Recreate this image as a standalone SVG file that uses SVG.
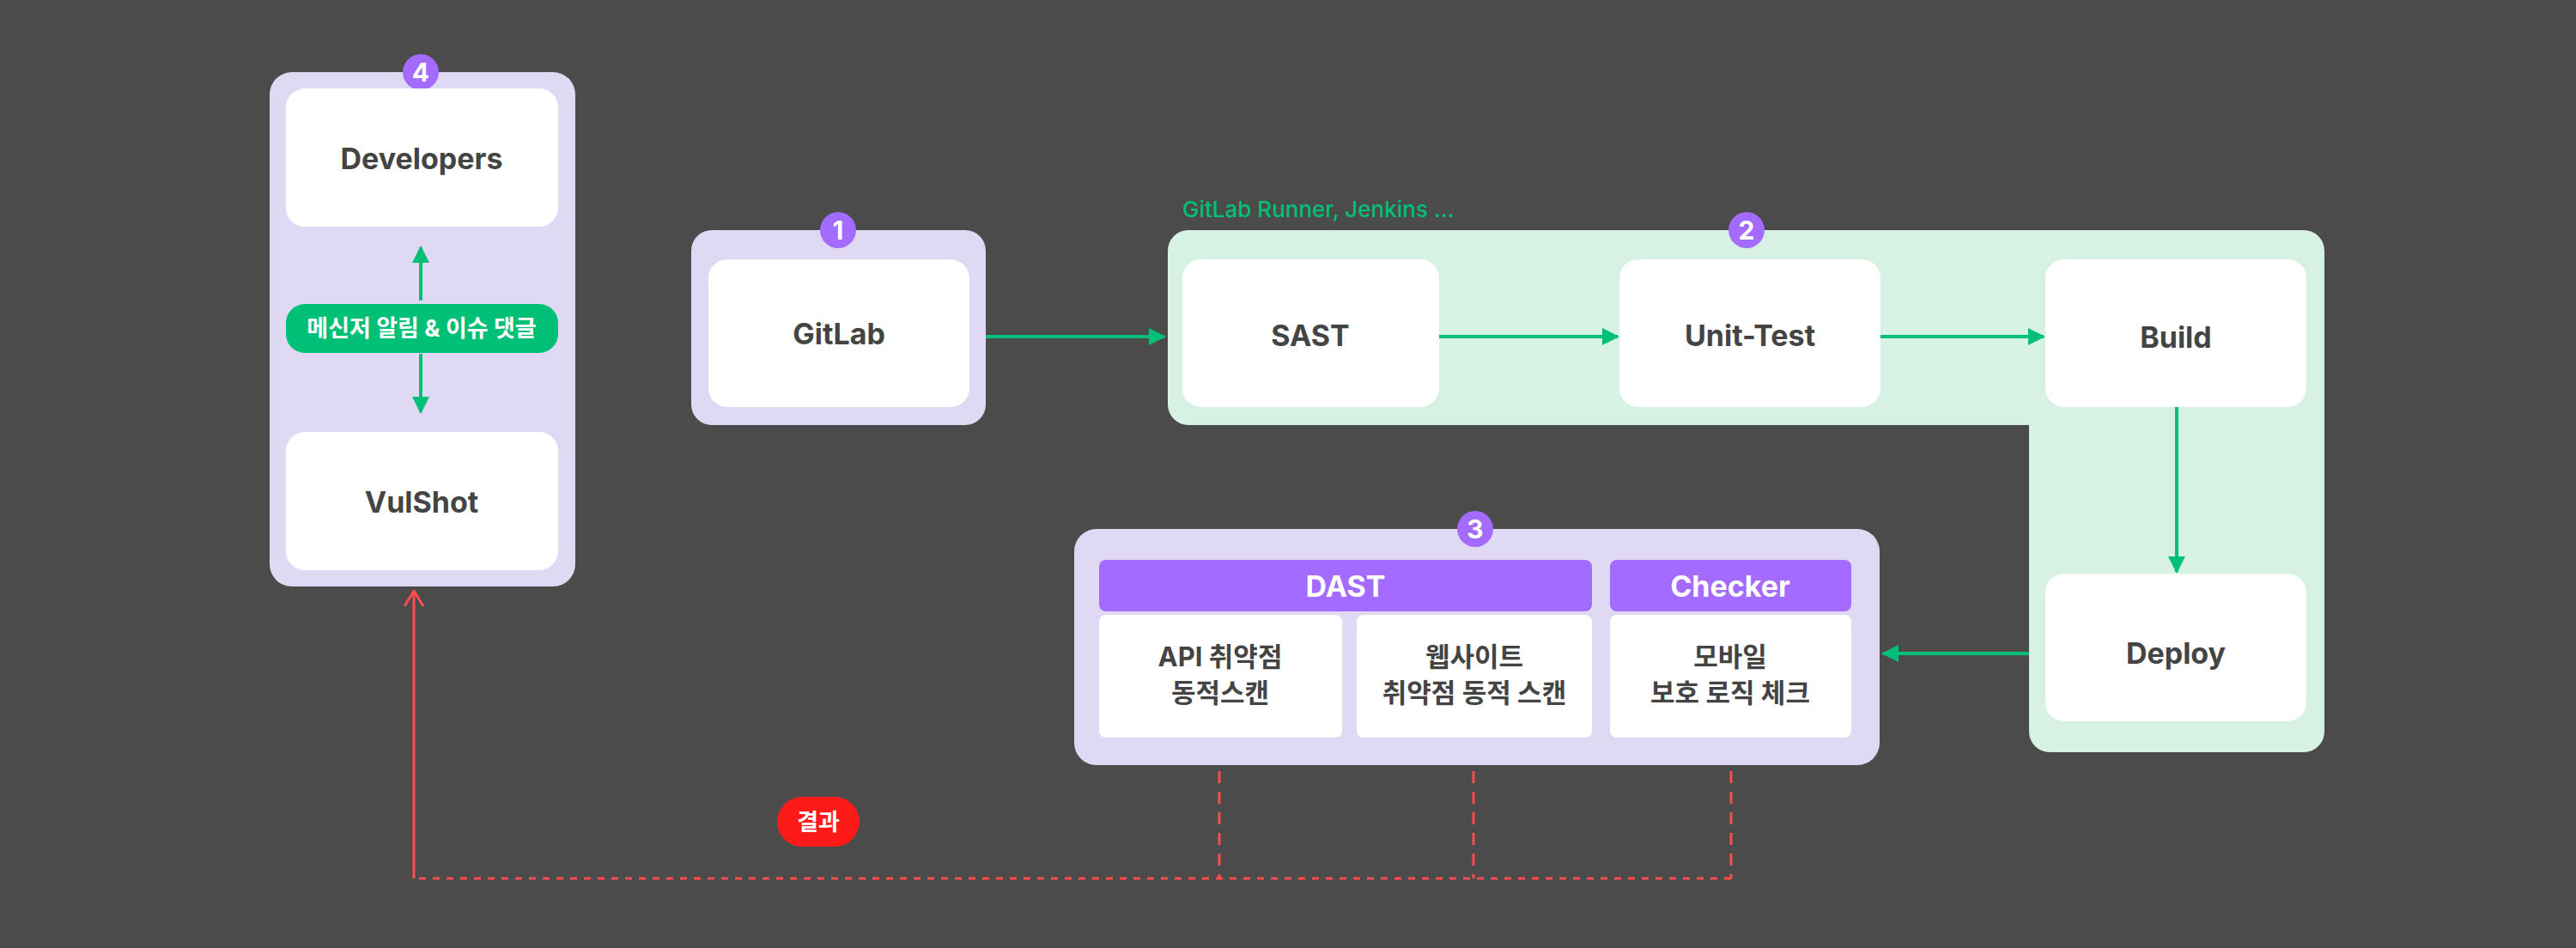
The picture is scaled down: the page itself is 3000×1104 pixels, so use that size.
<svg xmlns="http://www.w3.org/2000/svg" width="3000" height="1104" viewBox="0 0 3000 1104">
<style>
.grp{fill:#e0d9f3}
.grn{fill:#d7f2e5}
.box{fill:#fff}
.t{font-family:Inter,"Noto Sans CJK KR",sans-serif;font-weight:700;fill:#444444;text-anchor:middle;dominant-baseline:central}
.lg{font-size:34px}
.md{font-size:31px}
.w{fill:#fff}
.badge{fill:#a36bff}
.bt{font-family:Inter,sans-serif;font-weight:700;font-size:30px;fill:#fff;text-anchor:middle;dominant-baseline:central}
.ga{stroke:#00bf77;stroke-width:4;fill:none}
.rd{stroke:#ff4d4d;stroke-width:3;fill:none}
</style>
<defs>
<marker id="ah" viewBox="0 0 10 10" refX="9" refY="5" markerWidth="5" markerHeight="5" orient="auto-start-reverse"><path d="M0,0L10,5L0,10z" fill="#00bf77"/></marker>
<marker id="ro" viewBox="0 0 20 24" refX="19" refY="12" markerWidth="20" markerHeight="24" markerUnits="userSpaceOnUse" orient="auto"><path d="M1,1L19,12L1,23" fill="none" stroke="#ff4d4d" stroke-width="3"/></marker>
</defs>
<rect width="3000" height="1104" fill="#4b4b4b"/>

<g id="group4">
<rect class="grp" x="314" y="84" width="356" height="599" rx="26"/>
<circle class="badge" cx="490" cy="84" r="21"/><text class="bt" x="490" y="84">4</text>
</g>
<g id="developers"><rect class="box" x="333" y="103" width="317" height="161" rx="22"/><text class="t lg" x="491" y="184">Developers</text></g>
<g id="vulshot"><rect class="box" x="333" y="503" width="317" height="161" rx="22"/><text class="t lg" x="491" y="584">VulShot</text></g>

<g id="group1">
<rect class="grp" x="805" y="268" width="343" height="227" rx="24"/>
<circle class="badge" cx="976" cy="268" r="21"/><text class="bt" x="976" y="268">1</text>
</g>
<g id="gitlab"><rect class="box" x="825" y="302" width="304" height="172" rx="22"/><text class="t lg" x="977" y="388">GitLab</text></g>

<g id="group2">
<path class="grn" d="M1384,268H2683A24,24 0 0 1 2707,292V852A24,24 0 0 1 2683,876H2387A24,24 0 0 1 2363,852V495H1384A24,24 0 0 1 1360,471V292A24,24 0 0 1 1384,268Z"/>
<circle class="badge" cx="2034" cy="268" r="21"/><text class="bt" x="2034" y="268">2</text>
<text x="1377" y="243" font-family="Inter,sans-serif" font-size="26" font-weight="500" fill="#00bf77" dominant-baseline="central">GitLab Runner, Jenkins ...</text>
</g>
<g id="sast"><rect class="box" x="1377" y="302" width="299" height="172" rx="22"/><text class="t lg" x="1526" y="390">SAST</text></g>
<g id="unittest"><rect class="box" x="1886" y="302" width="304" height="172" rx="22"/><text class="t lg" x="2038" y="390">Unit-Test</text></g>
<g id="build"><rect class="box" x="2382" y="302" width="304" height="172" rx="22"/><text class="t lg" x="2534" y="392">Build</text></g>
<g id="deploy"><rect class="box" x="2382" y="668" width="304" height="172" rx="22"/><text class="t lg" x="2534" y="760">Deploy</text></g>

<g id="group3">
<rect class="grp" x="1251" y="616" width="938" height="275" rx="26"/>
<circle class="badge" cx="1718" cy="616" r="21"/><text class="bt" x="1718" y="616">3</text>
</g>
<g id="dast"><rect class="badge" x="1280" y="652" width="574" height="60" rx="8"/><text class="t lg w" x="1567" y="682">DAST</text></g>
<g id="checker"><rect class="badge" x="1875" y="652" width="281" height="60" rx="8"/><text class="t lg w" x="2015" y="682">Checker</text></g>
<g id="api"><rect class="box" x="1280" y="716" width="283" height="143" rx="8"/><text class="t md" x="1421" y="764">API 취약점</text><text class="t md" x="1421" y="806">동적스캔</text></g>
<g id="web"><rect class="box" x="1580" y="716" width="274" height="143" rx="8"/><text class="t md" x="1717" y="764">웹사이트</text><text class="t md" x="1717" y="806">취약점 동적 스캔</text></g>
<g id="mobile"><rect class="box" x="1875" y="716" width="281" height="143" rx="8"/><text class="t md" x="2015" y="764">모바일</text><text class="t md" x="2015" y="806">보호 로직 체크</text></g>

<g id="connectors">
<line class="ga" x1="490" y1="350" x2="490" y2="288" marker-end="url(#ah)"/>
<line class="ga" x1="490" y1="412" x2="490" y2="480" marker-end="url(#ah)"/>
<line class="ga" x1="1148" y1="392" x2="1356" y2="392" marker-end="url(#ah)"/>
<line class="ga" x1="1676" y1="392" x2="1884" y2="392" marker-end="url(#ah)"/>
<line class="ga" x1="2190" y1="392" x2="2380" y2="392" marker-end="url(#ah)"/>
<line class="ga" x1="2535" y1="474" x2="2535" y2="666" marker-end="url(#ah)"/>
<line class="ga" x1="2363" y1="761" x2="2193" y2="761" marker-end="url(#ah)"/>
<line class="rd" x1="1420" y1="898" x2="1420" y2="1023" stroke-dasharray="14 10"/>
<line class="rd" x1="1716" y1="898" x2="1716" y2="1023" stroke-dasharray="14 10"/>
<line class="rd" x1="2016" y1="898" x2="2016" y2="1023" stroke-dasharray="14 10"/>
<line class="rd" x1="2016" y1="1023" x2="482" y2="1023" stroke-dasharray="8 8"/>
<line class="rd" x1="482" y1="1023" x2="482" y2="688" marker-end="url(#ro)"/>
</g>

<g id="pill"><rect x="333" y="354" width="317" height="57" rx="22" fill="#00bf77"/><text class="t w" x="491" y="382" font-size="27">메신저 알림 &amp; 이슈 댓글</text></g>
<g id="result"><rect x="905" y="928" width="96" height="58" rx="29" fill="#ff1a1a"/><text class="t w" x="953" y="957" font-size="27">결과</text></g>
</svg>
